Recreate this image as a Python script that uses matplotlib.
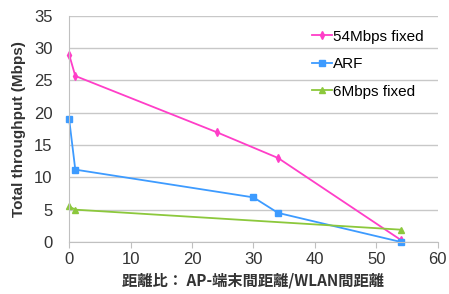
import matplotlib
matplotlib.use("Agg")
from matplotlib import pyplot as plt

plt.rcParams['font.family'] = ['Liberation Sans', 'Noto Sans CJK JP', 'DejaVu Sans']

# data
x_54 = [0, 1, 24, 34, 54]
y_54 = [29, 25.7, 17.0, 13.0, 0.3]
x_arf = [0, 1, 30, 34, 54]
y_arf = [19, 11.2, 6.9, 4.5, 0]
x_6 = [0, 1, 54]
y_6 = [5.5, 5.0, 1.9]

fig = plt.figure(figsize=(4.49, 2.94), dpi=100)
ax = fig.add_axes([0.154, 0.177, 0.821, 0.769])

ax.plot(x_54, y_54, color='#ff3ec8', marker='d', markersize=4, lw=1.3, label='54Mbps fixed', clip_on=False)
ax.plot(x_arf, y_arf, color='#3d9bff', marker='s', markersize=4.5, lw=1.3, label='ARF', clip_on=False)
ax.plot(x_6, y_6, color='#8cc83c', marker='^', markersize=4.5, lw=1.3, label='6Mbps fixed', clip_on=False)

ax.set_xlim(0, 60)
ax.set_ylim(0, 35)
ax.set_xticks(range(0, 61, 10))
ax.set_yticks(range(0, 36, 5))
ax.grid(axis='y', color='#c8c8c8', lw=1)
ax.set_axisbelow(True)
for s in ['top', 'right']:
    ax.spines[s].set_visible(False)
for s in ['left', 'bottom']:
    ax.spines[s].set_color('#c0c0c0')
ax.tick_params(colors='#c0c0c0', labelcolor='#333333', labelsize=12, length=4)
ax.tick_params(axis='y', length=0, pad=12)

ax.set_ylabel('Total throughput (Mbps)', fontsize=11, fontweight='bold', color='#333333', labelpad=6)
ax.set_xlabel('距離比： AP-端末間距離/WLAN間距離', fontsize=11, fontweight='bold', color='#333333',
              family=['Noto Sans CJK JP', 'DejaVu Sans'], labelpad=4)

ax.legend(loc='upper right', frameon=False, fontsize=11, handlelength=1.3,
          handletextpad=0.1, labelspacing=0.88, bbox_to_anchor=(1.0, 1.0))

fig.savefig('out.png', dpi=100)
